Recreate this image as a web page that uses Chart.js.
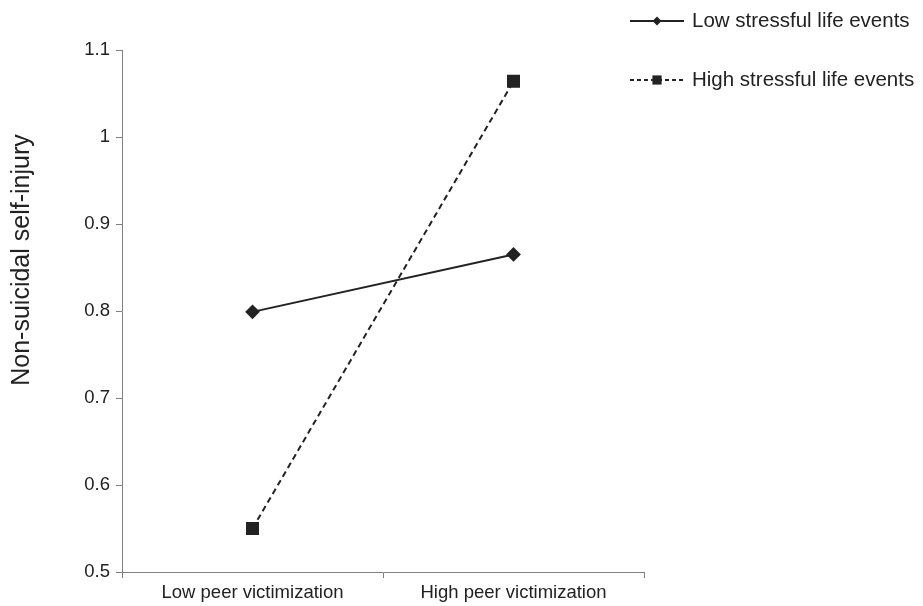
<!DOCTYPE html>
<html>
<head>
<meta charset="utf-8">
<script src="https://cdn.jsdelivr.net/npm/chart.js@4.4.0/dist/chart.umd.min.js"></script>
<style>
  html, body { margin: 0; padding: 0; background: #fff; }
  #wrap { width: 923px; height: 606px; }
</style>
</head>
<body>
<div id="wrap"><canvas id="nssiChart"></canvas></div>
<script>
// values
var categories = ["Low peer victimization", "High peer victimization"];
var seriesNames = ["Low stressful life events", "High stressful life events"];
var lowStress = [0.799, 0.865];
var highStress = [0.550, 1.064];
var yTicks = [0.5, 0.6, 0.7, 0.8, 0.9, 1.0, 1.1];
var yTitle = "Non-suicidal self-injury";

var ink = '#222222';
var axisGray = '#808080';
var fontName = '"Liberation Sans", Arial, sans-serif';

// legend drawn like the original: line - marker - line, then text
// plus the y title, which sits above the middle of the axis in the original
var sideLegend = {
	id: 'sideLegend',
	afterDraw: function(chart)
	{
		var ctx = chart.ctx;
		var rows = [21, 80];
		chart.data.datasets.forEach(function(ds, i)
		{
			var y = rows[i];
			ctx.save();
			ctx.strokeStyle = ds.borderColor;
			ctx.lineWidth = ds.borderWidth;
			ctx.setLineDash(ds.legendDash || []);
			ctx.beginPath();
			ctx.moveTo(630, y);
			ctx.lineTo(684, y);
			ctx.stroke();
			ctx.setLineDash([]);
			ctx.fillStyle = ds.pointBackgroundColor;
			ctx.strokeStyle = ds.pointBorderColor;
			ctx.lineWidth = 1;
			Chart.helpers.drawPoint(ctx, {pointStyle: ds.pointStyle, radius: ds.legendRadius, rotation: 0}, 657, y);
			ctx.fillStyle = ink;
			ctx.font = '20.5px ' + fontName;
			ctx.textBaseline = 'middle';
			ctx.textAlign = 'left';
			ctx.fillText(ds.label, 692, y);
			ctx.restore();
		});

		ctx.save();
		ctx.translate(22, 260);
		ctx.rotate(-Math.PI / 2);
		ctx.fillStyle = ink;
		ctx.font = '25px ' + fontName;
		ctx.textAlign = 'center';
		ctx.textBaseline = 'middle';
		ctx.fillText(yTitle, 0, 0);
		ctx.restore();
	}
};

window.onload = () =>
{
	var ctx = document.getElementById('nssiChart').getContext('2d');
	var chartConfig =
	{
		type: 'line',
		data:
		{
			labels: categories,
			datasets: [{
				label: seriesNames[0],
				data: lowStress,
				borderColor: ink,
				borderWidth: 2,
				pointStyle: 'rectRot',
				pointRadius: 6,
				pointHoverRadius: 6,
				legendRadius: 4.5,
				pointBackgroundColor: ink,
				pointBorderColor: ink,
				tension: 0
			}, {
				label: seriesNames[1],
				data: highStress,
				borderColor: ink,
				borderWidth: 2,
				borderDash: [6, 4],
				legendDash: [4, 3],
				pointStyle: 'rect',
				pointRadius: 7.8,
				pointHoverRadius: 7.8,
				legendRadius: 6.5,
				pointBackgroundColor: ink,
				pointBorderColor: ink,
				tension: 0
			}]
		},
		options:
		{
			responsive: true,
			maintainAspectRatio: false,
			animation: false,
			layout: { padding: { top: 50, right: 279, left: 0, bottom: 0 } },
			plugins:
			{
				legend: { display: false },
				tooltip: { enabled: false }
			},
			scales:
			{
				x:
				{
					type: 'category',
					offset: true,
					grid: { offset: true, drawOnChartArea: false, drawTicks: true, tickLength: 6, color: axisGray },
					border: { color: axisGray, width: 1 },
					ticks: { color: ink, font: { family: fontName, size: 18.5 }, padding: 4, maxRotation: 0 },
					afterFit: function(s) { s.height = 34; }
				},
				y:
				{
					min: 0.5,
					max: 1.1,
					afterBuildTicks: function(s) { s.ticks = yTicks.map(function(v) { return {value: v}; }); },
					grid: { drawOnChartArea: false, drawTicks: true, tickLength: 6, color: axisGray },
					border: { color: axisGray, width: 1 },
					ticks:
					{
						color: ink,
						font: { family: fontName, size: 18.5 },
						padding: 6,
						callback: function(v) { return String(Math.round(v * 10) / 10); }
					},
					afterFit: function(s) { s.width = 122; }
				}
			}
		},
		plugins: [sideLegend]
	};
	var chart = new Chart(ctx, chartConfig);
};
</script>
</body>
</html>
